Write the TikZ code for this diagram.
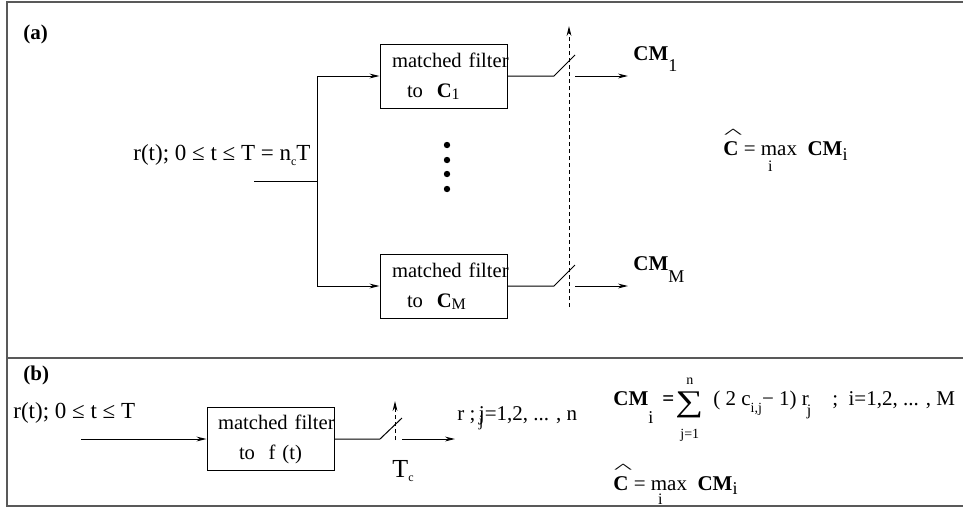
\documentclass[tikz,border=0pt]{standalone}
\usepackage{fontspec}
\setmainfont{Liberation Serif}
\usetikzlibrary{arrows.meta,positioning}
\newcommand{\lowsub}[3]{\raisebox{-#1}{\fontsize{#2}{#2}\selectfont #3}}
\newcommand{\hatC}{\rlap{\raisebox{8.7pt}{\hspace{0.2pt}\scalebox{1.1}[0.35]{\fontsize{18}{18}\selectfont\^{}}}}\textbf{C}}

\begin{document}
\begin{tikzpicture}[x=0.5pt,y=-0.5pt,>={Stealth[length=5pt,width=2.4pt]},
  every node/.style={font=\fontsize{10.5}{12}\selectfont,inner sep=0pt,anchor=base west},
  filterbox/.style={draw,line width=0.5pt,anchor=center,minimum width=63.5pt,minimum height=32pt,
    text width=57.5pt,inner xsep=3pt,align=left,font=\fontsize{10.3}{15}\selectfont},
  wire/.style={line width=0.5pt},
  clock/.style={line width=0.5pt,dash pattern=on 2pt off 1.5pt},
  frame/.style={line width=0.8pt,black!65}]
  \useasboundingbox (0,0) rectangle (963,510);
  % outer frame, panels (a) and (b)
  \draw[frame] (990,2) -- (7,2) -- (7,506) -- (990,506);
  \draw[frame] (7,358) -- (990,358);

  % ---- (a) bank of matched filters
  \node[font=\fontsize{10.5}{12}\selectfont\bfseries] (lbla) at (23,39) {(a)};
  \node[font=\fontsize{11.5}{12}\selectfont] (inlbl) at (133,160) {r(t); 0 ≤ t ≤ T = n\lowsub{2.5pt}{6}{c}T};
  \coordinate (in) at (254,181);
  \coordinate (split) at (317,181);
  \node[filterbox] (mf1) at (443.5,76) {\hspace*{3pt}\mbox{matched filter}\\\hspace*{10.5pt}to~~\textbf{C}\lowsub{1pt}{8}{1}};
  \node[filterbox] (mfM) at (443.5,286) {\hspace*{3pt}\mbox{matched filter}\\\hspace*{10.5pt}to~~\textbf{C}\lowsub{1pt}{8}{M}};
  \draw[wire] (in) -- (split);
  \draw[wire,->] (split) |- (mf1.west);
  \draw[wire,->] (split) |- (mfM.west);
  \foreach \y in {145,160,174,189} \fill (447,\y) circle (1.6pt);

  % samplers
  \coordinate (sw1a) at (554,76);
  \coordinate (sw1b) at (575,55);
  \coordinate (sw1c) at (575,76);
  \coordinate (out1) at (628,76);
  \coordinate (swMa) at (554,286);
  \coordinate (swMb) at (575,265);
  \coordinate (swMc) at (575,286);
  \coordinate (outM) at (628,286);
  \draw[wire] (mf1.east) -- (sw1a) -- (sw1b);
  \draw[wire,->] (sw1c) -- (out1);
  \draw[wire] (mfM.east) -- (swMa) -- (swMb);
  \draw[wire,->] (swMc) -- (outM);
  \coordinate (clkbot) at (569,307);
  \coordinate (clktop) at (569,26);
  \draw[clock,->] (clkbot) -- (clktop);

  \node (cm1) at (633,60) {\textbf{CM}\lowsub{5.5pt}{9}{1}};
  \node (cmM) at (633,270) {\textbf{CM}\lowsub{6pt}{9}{M}};
  \node (deca) at (723,155) {\hatC{} = max\llap{\lowsub{8pt}{8}{i}\hspace{12.3pt}}~~\textbf{CM}\lowsub{2.5pt}{9}{i}};

  % ---- (b) single matched filter
  \node[font=\fontsize{10.5}{12}\selectfont\bfseries] (lblb) at (23,380) {(b)};
  \node[font=\fontsize{11.5}{12}\selectfont] (inlblb) at (13,418) {r(t); 0 ≤ t ≤ T};
  \coordinate (inb) at (81,439);
  \node[filterbox,minimum height=31.5pt] (mfb) at (270.5,439) {\hspace*{2.5pt}\mbox{matched filter}\\\hspace*{13pt}to~~f (t)};
  \draw[wire,->] (inb) -- (mfb.west);
  \coordinate (swba) at (380,439);
  \coordinate (swbb) at (402,418);
  \coordinate (swbc) at (402,439);
  \coordinate (outb) at (455,439);
  \draw[wire] (mfb.east) -- (swba) -- (swbb);
  \draw[wire,->] (swbc) -- (outb);
  \coordinate (clkbbot) at (395,440);
  \coordinate (clkbtop) at (395,401);
  \draw[clock,->] (clkbbot) -- (clkbtop);
  \node[font=\fontsize{13}{14}\selectfont] (tc) at (392,477) {T\lowsub{2pt}{6}{c}};
  \node (rj) at (457,420) {r ;\,\rlap{\lowsub{3pt}{8}{j}}j=1,2, ... , n};

  \node (cmi) at (613,405) {\textbf{CM}\lowsub{9pt}{9}{i}};
  \node (eqs) at (662,405) {\textbf{=}};
  \node[font=\fontsize{15}{16}\selectfont] (sum) at (675,411) {\scalebox{1.3}[1]{∑}};
  \node[font=\fontsize{7}{8}\selectfont] (sumtop) at (686,384) {n};
  \node[font=\fontsize{7}{8}\selectfont] (sumbot) at (680,438) {j=1};
  \node (terms) at (713,405) {( 2 c\lowsub{3.5pt}{7}{i,j}− 1) r\kern-1pt\lowsub{5pt}{8}{j}~~~~;~~i=1,2, ... , M};
  \node (decb) at (613,490) {\hatC{} = max\llap{\lowsub{7pt}{8}{i}\hspace{12.3pt}}~~\textbf{CM}\lowsub{2pt}{9}{i}};
\end{tikzpicture}
\end{document}
